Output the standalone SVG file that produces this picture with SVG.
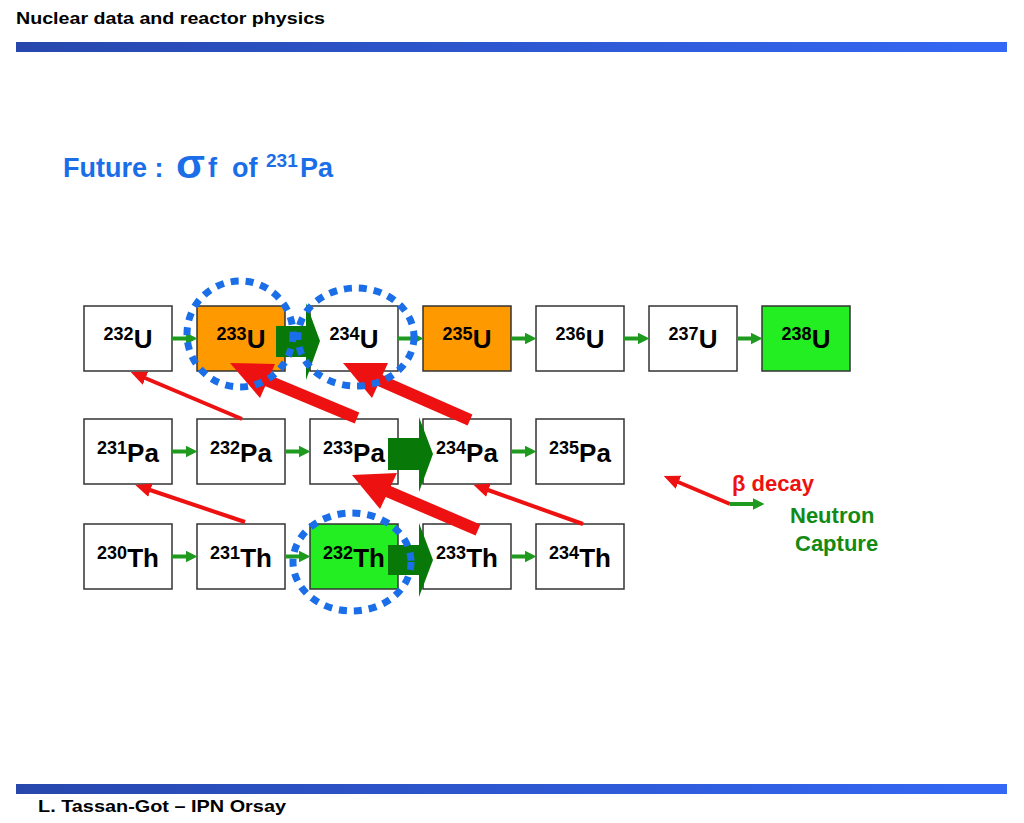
<svg xmlns="http://www.w3.org/2000/svg" width="1024" height="823" viewBox="0 0 1024 823">
<defs>
<linearGradient id="bar" x1="0" y1="0" x2="1" y2="0">
<stop offset="0" stop-color="#2747ad"/>
<stop offset="1" stop-color="#3468f5"/>
</linearGradient>
<marker id="gh" viewBox="0 0 12 12" refX="0.5" refY="6" markerWidth="12" markerHeight="12" markerUnits="userSpaceOnUse" orient="auto">
<path d="M0,0 L12,6 L0,12 z" fill="#1e9a1e"/>
</marker>
<marker id="rh" viewBox="0 0 16 14" refX="0.5" refY="7" markerWidth="16" markerHeight="14" markerUnits="userSpaceOnUse" orient="auto">
<path d="M0,0 L16,7 L0,14 z" fill="#ee1111"/>
</marker>
</defs>
<style>
.box{stroke:#333;stroke-width:1.5}
.lbl{font-family:"Liberation Sans",Arial,sans-serif;font-weight:bold;fill:#000;text-anchor:middle}
.sup{font-size:18px}
.main{font-size:26px}
.ga{stroke:#1e9a1e;stroke-width:4;fill:none}
.ra{stroke:#ee1111;stroke-width:4;fill:none}
.rt{stroke:#ee1111;stroke-width:12;fill:none}
.rh{fill:#ee1111}
.big{fill:#087808}
.dot{fill:none;stroke:#1a6ee8;stroke-width:7;stroke-dasharray:8 7}
.hd{font-family:"Liberation Sans",Arial,sans-serif;font-weight:bold;fill:#000}
</style>
<rect width="1024" height="823" fill="#fff"/>
<g id="header">
<text class="hd" x="16" y="24" font-size="17" textLength="309" lengthAdjust="spacingAndGlyphs">Nuclear data and reactor physics</text>
<rect x="16" y="42" width="991" height="10" fill="url(#bar)"/>
</g>
<g id="footer">
<rect x="16" y="784" width="991" height="10" fill="url(#bar)"/>
<text class="hd" x="38" y="812" font-size="17" textLength="248" lengthAdjust="spacingAndGlyphs">L. Tassan-Got – IPN Orsay</text>
</g>
<g id="title" font-family="Liberation Sans,Arial,sans-serif" font-weight="bold" fill="#1a6ee8">
<text x="63" y="177" font-size="27">Future :</text>
<text x="176" y="178" font-size="41" textLength="29" lengthAdjust="spacingAndGlyphs">σ</text>
<text x="208" y="177" font-size="27">f</text>
<text x="232" y="177" font-size="27">of</text>
<text x="266" y="167" font-size="19">231</text>
<text x="300" y="177" font-size="27">Pa</text>
</g>
<g id="nodes">
<g id="U232"><rect class="box" x="84" y="306" width="88" height="65" fill="#fff"/><text class="lbl" x="128" y="348"><tspan class="sup" dy="-8">232</tspan><tspan class="main" dy="8">U</tspan></text></g>
<g id="U233"><rect class="box" x="197" y="306" width="88" height="65" fill="#ff9900"/><text class="lbl" x="241" y="348"><tspan class="sup" dy="-8">233</tspan><tspan class="main" dy="8">U</tspan></text></g>
<g id="U234"><rect class="box" x="310" y="306" width="88" height="65" fill="#fff"/><text class="lbl" x="354" y="348"><tspan class="sup" dy="-8">234</tspan><tspan class="main" dy="8">U</tspan></text></g>
<g id="U235"><rect class="box" x="423" y="306" width="88" height="65" fill="#ff9900"/><text class="lbl" x="467" y="348"><tspan class="sup" dy="-8">235</tspan><tspan class="main" dy="8">U</tspan></text></g>
<g id="U236"><rect class="box" x="536" y="306" width="88" height="65" fill="#fff"/><text class="lbl" x="580" y="348"><tspan class="sup" dy="-8">236</tspan><tspan class="main" dy="8">U</tspan></text></g>
<g id="U237"><rect class="box" x="649" y="306" width="88" height="65" fill="#fff"/><text class="lbl" x="693" y="348"><tspan class="sup" dy="-8">237</tspan><tspan class="main" dy="8">U</tspan></text></g>
<g id="U238"><rect class="box" x="762" y="306" width="88" height="65" fill="#22ee22"/><text class="lbl" x="806" y="348"><tspan class="sup" dy="-8">238</tspan><tspan class="main" dy="8">U</tspan></text></g>
<g id="Pa231"><rect class="box" x="84" y="419" width="88" height="65" fill="#fff"/><text class="lbl" x="128" y="462"><tspan class="sup" dy="-8">231</tspan><tspan class="main" dy="8">Pa</tspan></text></g>
<g id="Pa232"><rect class="box" x="197" y="419" width="88" height="65" fill="#fff"/><text class="lbl" x="241" y="462"><tspan class="sup" dy="-8">232</tspan><tspan class="main" dy="8">Pa</tspan></text></g>
<g id="Pa233"><rect class="box" x="310" y="419" width="88" height="65" fill="#fff"/><text class="lbl" x="354" y="462"><tspan class="sup" dy="-8">233</tspan><tspan class="main" dy="8">Pa</tspan></text></g>
<g id="Pa234"><rect class="box" x="423" y="419" width="88" height="65" fill="#fff"/><text class="lbl" x="467" y="462"><tspan class="sup" dy="-8">234</tspan><tspan class="main" dy="8">Pa</tspan></text></g>
<g id="Pa235"><rect class="box" x="536" y="419" width="88" height="65" fill="#fff"/><text class="lbl" x="580" y="462"><tspan class="sup" dy="-8">235</tspan><tspan class="main" dy="8">Pa</tspan></text></g>
<g id="Th230"><rect class="box" x="84" y="524" width="88" height="65" fill="#fff"/><text class="lbl" x="128" y="567"><tspan class="sup" dy="-8">230</tspan><tspan class="main" dy="8">Th</tspan></text></g>
<g id="Th231"><rect class="box" x="197" y="524" width="88" height="65" fill="#fff"/><text class="lbl" x="241" y="567"><tspan class="sup" dy="-8">231</tspan><tspan class="main" dy="8">Th</tspan></text></g>
<g id="Th232"><rect class="box" x="310" y="524" width="88" height="65" fill="#22ee22"/><text class="lbl" x="354" y="567"><tspan class="sup" dy="-8">232</tspan><tspan class="main" dy="8">Th</tspan></text></g>
<g id="Th233"><rect class="box" x="423" y="524" width="88" height="65" fill="#fff"/><text class="lbl" x="467" y="567"><tspan class="sup" dy="-8">233</tspan><tspan class="main" dy="8">Th</tspan></text></g>
<g id="Th234"><rect class="box" x="536" y="524" width="88" height="65" fill="#fff"/><text class="lbl" x="580" y="567"><tspan class="sup" dy="-8">234</tspan><tspan class="main" dy="8">Th</tspan></text></g>
</g>
<g id="connectors">
<g id="captures">
<line class="ga" x1="172" y1="338.5" x2="186" y2="338.5" marker-end="url(#gh)"/>
<line class="ga" x1="398" y1="338.5" x2="412" y2="338.5" marker-end="url(#gh)"/>
<line class="ga" x1="511" y1="338.5" x2="525" y2="338.5" marker-end="url(#gh)"/>
<line class="ga" x1="624" y1="338.5" x2="638" y2="338.5" marker-end="url(#gh)"/>
<line class="ga" x1="737" y1="338.5" x2="751" y2="338.5" marker-end="url(#gh)"/>
<line class="ga" x1="172" y1="451.5" x2="186" y2="451.5" marker-end="url(#gh)"/>
<line class="ga" x1="285" y1="451.5" x2="299" y2="451.5" marker-end="url(#gh)"/>
<line class="ga" x1="511" y1="451.5" x2="525" y2="451.5" marker-end="url(#gh)"/>
<line class="ga" x1="172" y1="556.5" x2="186" y2="556.5" marker-end="url(#gh)"/>
<line class="ga" x1="285" y1="556.5" x2="299" y2="556.5" marker-end="url(#gh)"/>
<line class="ga" x1="511" y1="556.5" x2="525" y2="556.5" marker-end="url(#gh)"/>
<polygon class="big" points="276,326 306,326 306,303 320,341 306,380 306,357 276,357"/>
<polygon class="big" points="388,438 419,438 419,417 433,454 419,492 419,470 388,470"/>
<polygon class="big" points="388,545 419,545 419,523 433,560 419,597 419,575 388,575"/>
</g>
<g id="decays">
<line class="ra" x1="242" y1="419" x2="145" y2="378" marker-end="url(#rh)"/>
<line class="ra" x1="245" y1="522" x2="150" y2="490" marker-end="url(#rh)"/>
<line class="ra" x1="583" y1="524" x2="488" y2="490" marker-end="url(#rh)"/>
<line class="rt" x1="357" y1="418" x2="266" y2="380"/>
<polygon class="rh" points="230,363 275,364 260,398"/>
<line class="rt" x1="470" y1="420" x2="379" y2="380"/>
<polygon class="rh" points="343,363 388,363 372,398"/>
<line class="rt" x1="478" y1="530" x2="387" y2="491"/>
<polygon class="rh" points="352,475 397,473 380,509"/>
</g>
</g>
<g id="highlights">
<ellipse class="dot" cx="240" cy="334" rx="53" ry="53"/>
<ellipse class="dot" cx="356" cy="337" rx="58" ry="49"/>
<ellipse class="dot" cx="352" cy="562" rx="59" ry="49"/>
</g>
<g id="legend">
<line class="ra" x1="730" y1="504" x2="678" y2="482" marker-end="url(#rh)"/>
<line class="ga" x1="730" y1="504" x2="753" y2="504" marker-end="url(#gh)"/>
<text x="732" y="491" font-family="Liberation Sans,Arial,sans-serif" font-weight="bold" font-size="22" fill="#ee1111">β decay</text>
<text x="790" y="523" font-family="Liberation Sans,Arial,sans-serif" font-weight="bold" font-size="22" fill="#138a13">Neutron</text>
<text x="795" y="551" font-family="Liberation Sans,Arial,sans-serif" font-weight="bold" font-size="22" fill="#138a13">Capture</text>
</g>
</svg>
